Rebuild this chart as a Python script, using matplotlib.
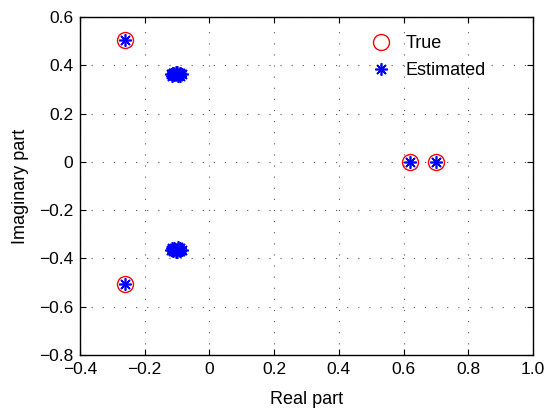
import numpy as np
import matplotlib
matplotlib.use("Agg")
import matplotlib.pyplot as plt

plt.rcParams['font.family'] = ['Liberation Sans', 'DejaVu Sans']
plt.rcParams['font.size'] = 13

# true poles / zeros
true_re = [-0.26, -0.26, 0.62, 0.70]
true_im = [0.505, -0.505, 0.0, 0.0]

# estimated values (many runs)
est_re = [-0.26, -0.26, 0.62, 0.70,
          -0.120, -0.114, -0.108, -0.103, -0.098, -0.092, -0.086,
          -0.116, -0.110, -0.104, -0.097, -0.090, -0.112, -0.100, -0.094,
          -0.120, -0.114, -0.108, -0.103, -0.098, -0.092, -0.086,
          -0.116, -0.110, -0.104, -0.097, -0.090, -0.112, -0.100, -0.094]
est_im = [0.505, -0.505, 0.0, 0.0,
          0.364, 0.370, 0.358, 0.366, 0.360, 0.369, 0.363,
          0.356, 0.361, 0.372, 0.354, 0.357, 0.367, 0.373, 0.365,
          -0.364, -0.370, -0.358, -0.366, -0.360, -0.369, -0.363,
          -0.356, -0.361, -0.372, -0.354, -0.357, -0.367, -0.373, -0.365]

fig = plt.figure(figsize=(5.44, 4.16), dpi=100)
ax = fig.add_axes([0.147, 0.1466, 0.833, 0.8125])

ax.plot(true_re, true_im, 'o', markersize=11.5, markerfacecolor='none',
        markeredgecolor='red', markeredgewidth=1.0, label='True', linestyle='none')
ax.plot(est_re, est_im, marker=(8, 2, 0), markersize=9, color='blue',
        markeredgewidth=1.2, linestyle='none', label='Estimated')

ax.set_xlim(-0.4, 1.0)
ax.set_ylim(-0.8, 0.6)
ax.set_xticks(np.arange(-0.4, 1.01, 0.2))
ax.set_yticks(np.arange(-0.8, 0.61, 0.2))
ax.set_xticklabels(['\u22120.4', '\u22120.2', '0', '0.2', '0.4', '0.6', '0.8', '1.0'])
ax.set_yticklabels(['\u22120.8', '\u22120.6', '\u22120.4', '\u22120.2', '0', '0.2', '0.4', '0.6'])
ax.tick_params(direction='in', length=4, top=True, right=True, pad=5, labelsize=12.5)
ax.grid(True, linestyle=(0, (1, 9)), color='#555555', linewidth=0.8)
for s in ax.spines.values():
    s.set_linewidth(1.0)

ax.set_xlabel('Real part', labelpad=10)
ax.set_ylabel('Imaginary part', labelpad=7)
ax.legend(loc='upper left', bbox_to_anchor=(0.609, 0.967), frameon=False,
          handletextpad=0.33, labelspacing=0.55, borderaxespad=0)

fig.savefig('out.png', dpi=100)
